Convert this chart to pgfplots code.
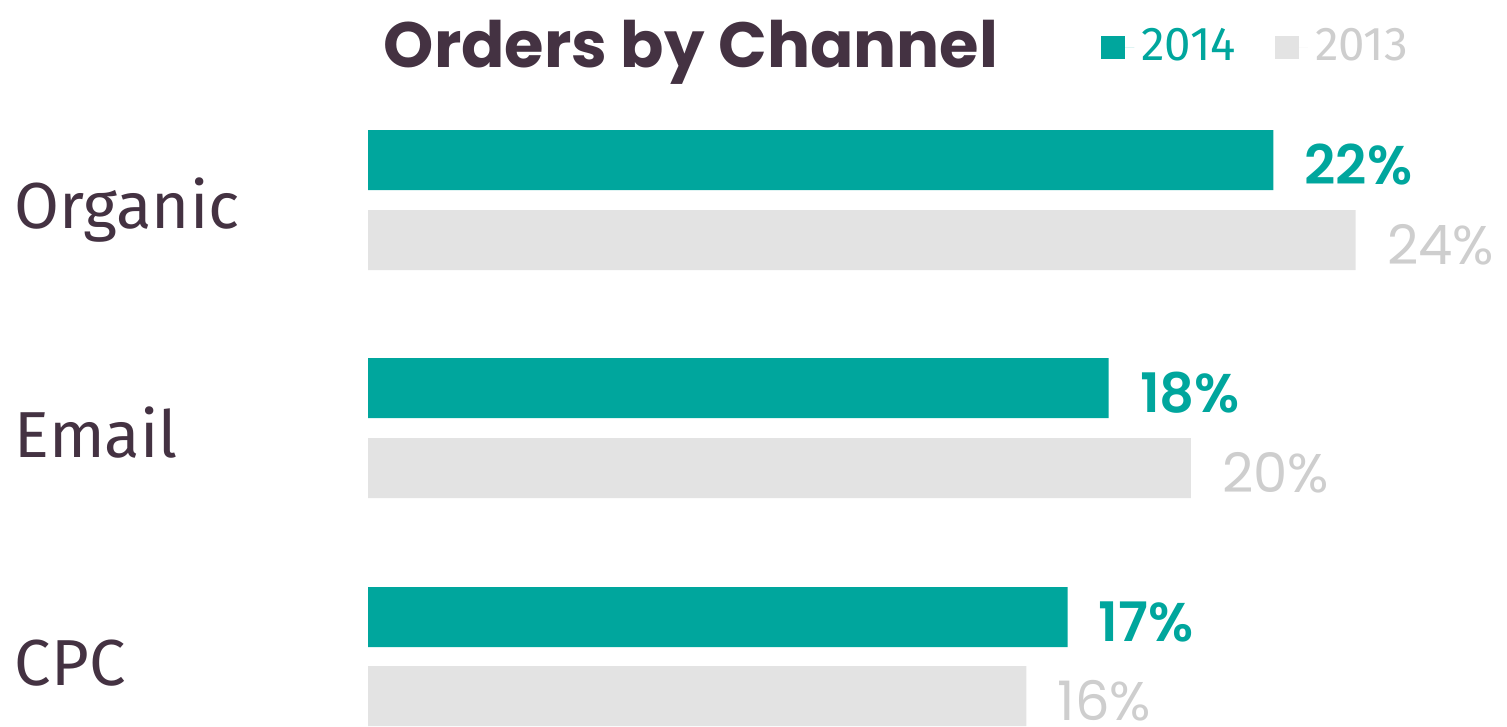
\documentclass[border=0pt]{standalone}
\usepackage{pgfplots}
\pgfplotsset{compat=1.18}
\usepackage{fontspec}
\setmainfont{Fira Sans}
\newfontfamily\titlefont{Poppins}
\newfontfamily\numfont{Poppins}[BoldFont={Poppins SemiBold}]
\definecolor{tealbar}{RGB}{0,166,157}
\definecolor{greybar}{RGB}{227,227,227}
\definecolor{greytext}{RGB}{206,206,206}
\definecolor{plum}{RGB}{68,50,66}

\begin{document}
\begin{tikzpicture}
\begin{axis}[
  width=150.7mm, height=72.5mm, scale only axis,
  hide axis, clip=false,
  xmin=-8.943, xmax=27.68,
  ymin=0, ymax=725, y dir=reverse,
  xbar, bar width=60, bar shift=0pt,
  /pgf/number format/assume math mode=true,
  legend style={at={(axis cs:17.55,47)}, anchor=west, draw=none, fill=none,
    legend columns=2, font=\fontsize{13.5}{15}\selectfont,
    /tikz/every even column/.append style={column sep=3.2mm}},
  legend image code/.code={\fill[#1] (0mm,-1.15mm) rectangle (2.4mm,1.15mm);
    \path (0mm,0mm) -- (3.3mm,0mm);},
]
  \path (rel axis cs:0,0) rectangle (rel axis cs:1,1);
  % 2014
  \addplot[draw=none, fill=tealbar,
    nodes near coords={\pgfmathprintnumber{\pgfplotspointmeta}\%},
    nodes near coords style={anchor=west, xshift=1.9mm, yshift=-0.45mm, inner ysep=0pt,
      text=tealbar, font=\numfont\bfseries\fontsize{15.5}{17}\selectfont}]
    coordinates {(22,160) (18,388) (17,617)};
  \addlegendentry{\textcolor{tealbar}{2014}}
  % 2013
  \addplot[draw=none, fill=greybar,
    nodes near coords={\pgfmathprintnumber{\pgfplotspointmeta}\%},
    nodes near coords style={anchor=west, xshift=1.9mm, yshift=-0.45mm, inner ysep=0pt,
      text=greytext, font=\numfont\fontsize{15.5}{17}\selectfont}]
    coordinates {(24,240) (20,468) (16,696)};
  \addlegendentry{\textcolor{greytext}{2013}}

  \node[anchor=base west, text=plum, font=\titlefont\bfseries\fontsize{18.2}{20}\selectfont, inner sep=0pt]
    at (axis cs:0.365,67) {Orders by Channel};
  \node[anchor=base west, text=plum, font=\fontsize{18.5}{20}\selectfont, inner sep=0pt]
    at (axis cs:-8.6,228) {Organic};
  \node[anchor=base west, text=plum, font=\fontsize{18.5}{20}\selectfont, inner sep=0pt]
    at (axis cs:-8.6,457) {Email};
  \node[anchor=base west, text=plum, font=\fontsize{18.5}{20}\selectfont, inner sep=0pt]
    at (axis cs:-8.6,685) {CPC};
\end{axis}
\end{tikzpicture}
\end{document}
